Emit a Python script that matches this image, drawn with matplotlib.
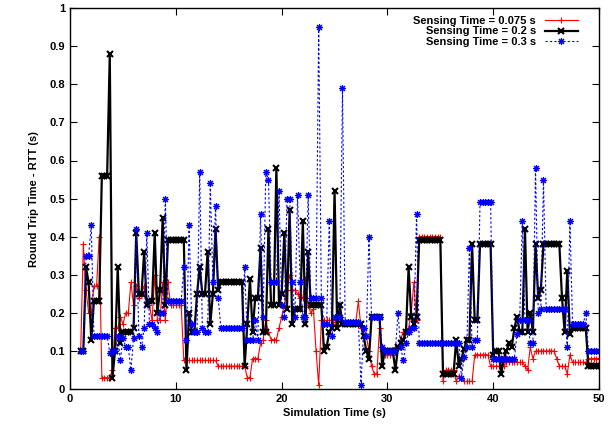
import matplotlib
matplotlib.use("Agg")
import matplotlib.pyplot as plt
import numpy as np

plt.rcParams["font.family"] = ["Liberation Sans", "DejaVu Sans"]
plt.rcParams["font.weight"] = "bold"

# sampling instants (s), one sample every 0.25 s
t = np.arange(1.0, 50.01, 0.25)

rtt_075 = [
    .10, .38, .26, .20,
    .20, .27, .27, .40,
    .03, .03, .03, .03,
    .05, .16, .16, .19,
    .17, .20, .20, .28,
    .22, .27, .24, .25,
    .27, .22, .22, .18,
    .30, .18, .18, .28,
    .18, .28, .22, .22,
    .22, .22, .22, .075,
    .075, .075, .075, .075,
    .075, .075, .075, .075,
    .075, .075, .075, .075,
    .06, .06, .06, .06,
    .06, .06, .06, .06,
    .06, .06, .06, .03,
    .03, .08, .08, .08,
    .12, .13, .18, .15,
    .13, .13, .13, .16,
    .19, .22, .26, .30,
    .26, .26, .25, .24,
    .24, .29, .22, .20,
    .21, .10, .01, .18,
    .18, .18, .18, .18,
    .175, .175, .175, .175,
    .175, .175, .175, .175,
    .175, .23, .16, .14,
    .14, .10, .06, .04,
    .04, .16, .10, .09,
    .09, .09, .09, .11,
    .11, .13, .15, .15,
    .16, .20, .28, .18,
    .40, .40, .40, .40,
    .40, .40, .40, .40,
    .40, .02, .05, .05,
    .05, .05, .02, .035,
    .03, .02, .02, .02,
    .02, .09, .09, .09,
    .09, .09, .09, .06,
    .06, .06, .06, .06,
    .06, .07, .07, .07,
    .07, .07, .07, .07,
    .06, .05, .11, .08,
    .10, .10, .10, .10,
    .10, .10, .10, .10,
    .08, .06, .06, .06,
    .04, .09, .07, .07,
    .07, .07, .07, .07,
    .08, .08, .08, .08,
    .08,
]

rtt_02 = [
    .10, .10, .32, .28,
    .13, .23, .23, .23,
    .56, .56, .56, .88,
    .03, .10, .32, .12,
    .15, .15, .15, .15,
    .16, .41, .25, .25,
    .36, .22, .23, .23,
    .41, .20, .26, .45,
    .22, .39, .39, .39,
    .39, .39, .39, .39,
    .05, .20, .15, .15,
    .25, .32, .25, .25,
    .36, .17, .25, .42,
    .26, .28, .28, .28,
    .28, .28, .28, .28,
    .28, .28, .06, .17,
    .29, .15, .24, .24,
    .37, .15, .15, .42,
    .22, .22, .58, .22,
    .25, .41, .21, .47,
    .17, .21, .21, .21,
    .44, .17, .36, .22,
    .22, .22, .22, .22,
    .10, .11, .15, .16,
    .52, .16, .22, .17,
    .17, .17, .17, .17,
    .17, .17, .17, .14,
    .10, .08, .19, .19,
    .19, .19, .06, .10,
    .10, .10, .10, .05,
    .11, .12, .13, .15,
    .32, .19, .17, .19,
    .39, .39, .39, .39,
    .39, .39, .39, .39,
    .39, .04, .04, .04,
    .04, .04, .13, .06,
    .08, .105, .13, .13,
    .38, .18, .18, .38,
    .38, .38, .38, .38,
    .09, .10, .10, .04,
    .08, .10, .12, .11,
    .16, .19, .15, .15,
    .42, .15, .20, .15,
    .38, .24, .26, .38,
    .38, .38, .38, .38,
    .38, .38, .24, .15,
    .31, .145, .16, .16,
    .16, .16, .16, .16,
    .06, .06, .06, .06,
    .06,
]

rtt_03 = [
    .10, .10, .35, .35,
    .43, .14, .14, .14,
    .14, .14, .14, .095,
    .10, .10, .14, .075,
    .135, .11, .11, .05,
    .135, .42, .14, .11,
    .16, .41, .17, .17,
    .16, .15, .20, .20,
    .50, .23, .23, .23,
    .23, .23, .23, .32,
    .13, .43, .17, .15,
    .15, .57, .16, .15,
    .15, .54, .28, .48,
    .24, .16, .16, .16,
    .16, .16, .16, .16,
    .16, .16, .32, .13,
    .13, .13, .18, .13,
    .46, .19, .57, .55,
    .28, .28, .28, .52,
    .22, .19, .50, .50,
    .28, .19, .51, .28,
    .19, .19, .51, .24,
    .24, .24, .95, .24,
    .17, .17, .44, .14,
    .19, .19, .19, .79,
    .175, .175, .175, .175,
    .175, .175, .01, .16,
    .14, .40, .19, .19,
    .19, .19, .11, .10,
    .10, .10, .10, .10,
    .20, .11, .075, .12,
    .15, .16, .16, .46,
    .12, .12, .12, .12,
    .12, .12, .12, .12,
    .12, .12, .12, .12,
    .12, .12, .12, .12,
    .03, .085, .11, .37,
    .11, .13, .13, .49,
    .49, .49, .49, .49,
    .08, .08, .08, .08,
    .08, .08, .08, .08,
    .08, .145, .18, .44,
    .18, .18, .12, .12,
    .58, .20, .21, .55,
    .21, .21, .21, .21,
    .21, .21, .21, .21,
    .11, .44, .17, .17,
    .17, .17, .17, .20,
    .10, .10, .10, .10,
    .10,
]

labels = ["Sensing Time = 0.075 s", "Sensing Time = 0.2 s", "Sensing Time = 0.3 s"]

fig = plt.figure(figsize=(6.15, 4.28), dpi=100)
ax = fig.add_axes([0.114, 0.091, 0.86, 0.89])

ax.plot(t, rtt_075, color="#ff0000", lw=0.8, marker="+", ms=5, mew=0.8, label=labels[0])
ax.plot(t, rtt_02, color="black", lw=1.6, marker="x", ms=5, mew=1.5, label=labels[1])
ax.plot(t, rtt_03, color="#0000ff", lw=0.8, ls=(0, (2, 2)), marker=(8, 2, 0), ms=5,
        mew=0.8, label=labels[2])

ax.set_xlim(0, 50)
ax.set_ylim(0, 1)
ax.set_xticks(np.arange(0, 51, 10))
yt = np.round(np.arange(0, 1.01, 0.1), 1)
ax.set_yticks(yt)
ax.set_yticklabels(["0" if v == 0 else ("1" if v == 1 else f"{v:g}") for v in yt])
ax.tick_params(direction="in", top=True, right=True, length=5, width=0.8, labelsize=8)
for s in ax.spines.values():
    s.set_linewidth(1.0)

ax.set_xlabel("Simulation Time (s)", fontsize=8, fontweight="bold", labelpad=3)
ax.set_ylabel("Round Trip Time - RTT (s)", fontsize=8, fontweight="bold", labelpad=8)

leg = ax.legend(loc="upper right", bbox_to_anchor=(0.975, 1.0), frameon=False,
                markerfirst=False, fontsize=8, handlelength=3.0, handletextpad=0.8,
                labelspacing=0.05, borderpad=0.2, numpoints=1)
for col in leg._legend_handle_box.get_children():
    col.align = "right"

fig.savefig("out.png", dpi=100)
